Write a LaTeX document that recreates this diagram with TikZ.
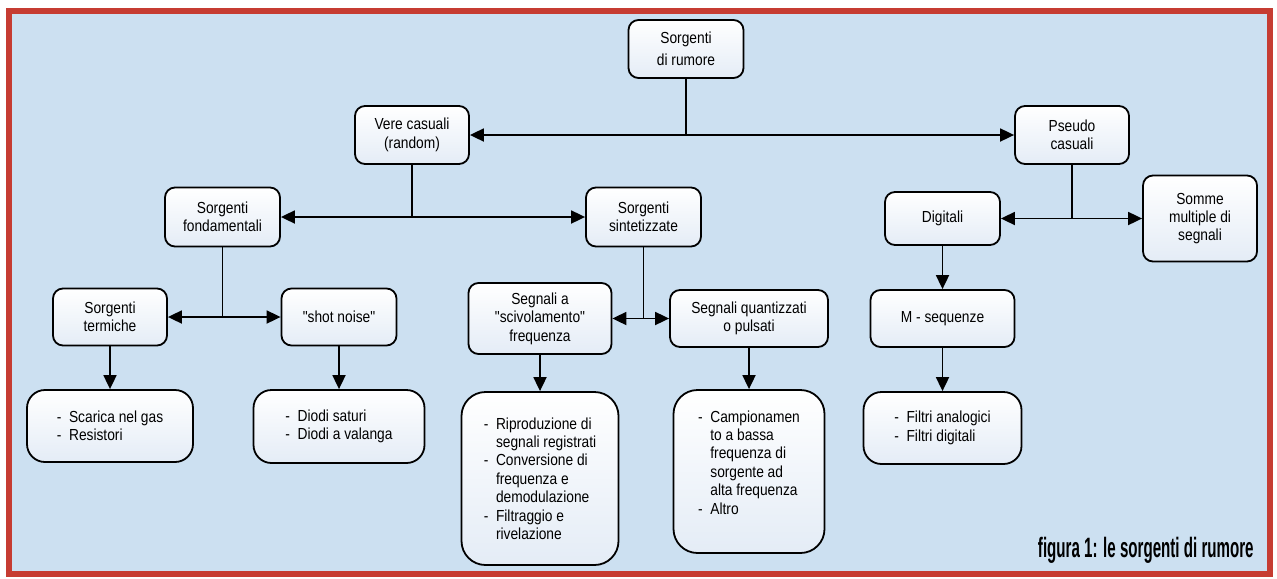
\documentclass[tikz,border=0pt]{standalone}
\usepackage{fontspec}
\newfontfamily\diagfont{Liberation Sans}[FakeStretch=0.86]
\newfontfamily\capfont{Liberation Sans}[FakeStretch=0.54]
\usetikzlibrary{arrows.meta}
\definecolor{bgblue}{RGB}{204,224,241}
\definecolor{framered}{RGB}{198,60,50}
\definecolor{boxlow}{RGB}{228,236,246}
\newcommand{\dashitem}{-\ \ }
\newcommand{\dashgap}{\phantom{-\ \ }}
\tikzset{
    box/.style={draw,line width=0.9pt,rounded corners=5pt,align=center,top color=white,bottom color=boxlow,
        inner sep=2pt,font=\diagfont\fontsize{8}{9.2}\selectfont},
    listbox/.style={box,align=left,rounded corners=9pt},
    link/.style={line width=0.9pt},
    arrow/.style={-{Triangle[length=7pt,width=6.5pt]},line width=0.9pt},
    twoway/.style={{Triangle[length=7pt,width=6.5pt]}-{Triangle[length=7pt,width=6.5pt]},line width=0.9pt}
}
\begin{document}
\begin{tikzpicture}[x=0.5pt,y=-0.5pt]
    \useasboundingbox (0,0) rectangle (1277,578);
    \filldraw[fill=bgblue,draw=framered,line width=3pt] (9,11) rectangle (1270,574);

    \node[box,minimum width=57.5pt,minimum height=29pt] (rumore) at (686,49) {Sorgenti\\[2pt]di rumore};
    \node[box,minimum width=57pt,minimum height=29pt] (vere) at (412,135) {Vere casuali\\(random)};
    \node[box,minimum width=57pt,minimum height=29pt] (pseudo) at (1072,135) {Pseudo\\casuali};

    \node[box,minimum width=57.5pt,minimum height=29.5pt] (fond) at (222.5,217) {Sorgenti\\fondamentali};
    \node[box,minimum width=57.5pt,minimum height=29.5pt] (sint) at (643.5,217) {Sorgenti\\sintetizzate};
    \node[box,minimum width=57.5pt,minimum height=26.5pt] (digit) at (942.5,218.5) {Digitali};
    \node[box,minimum width=57pt,minimum height=43pt] (somme) at (1200,218.5) {Somme\\multiple di\\segnali};

    \node[box,minimum width=57pt,minimum height=28.5pt] (termi) at (110,317) {Sorgenti\\termiche};
    \node[box,minimum width=57.5pt,minimum height=28.5pt] (shot) at (339,317) {"shot noise"};
    \node[box,minimum width=71.5pt,minimum height=35.5pt] (scivol) at (540,318.5) {Segnali a\\"scivolamento"\\frequenza};
    \node[box,minimum width=79pt,minimum height=28.5pt] (quant) at (749,318.5) {Segnali quantizzati\\o pulsati};
    \node[box,minimum width=72pt,minimum height=28.5pt] (mseq) at (942.5,318.5) {M - sequenze};

    \node[listbox,minimum width=83pt,minimum height=36pt] (scarica) at (110,426) {\dashitem Scarica nel gas\\\dashitem Resistori};
    \node[listbox,minimum width=85.5pt,minimum height=36.5pt] (diodi) at (339,426.5) {\dashitem Diodi saturi\\\dashitem Diodi a valanga};
    \node[listbox,rounded corners=12pt,minimum width=78.5pt,minimum height=86.5pt] (ripro) at (540,478.5)
        {\dashitem Riproduzione di\\\dashgap segnali registrati\\\dashitem Conversione di\\\dashgap frequenza e\\\dashgap demodulazione\\\dashitem Filtraggio e\\\dashgap rivelazione};
    \node[listbox,rounded corners=12pt,minimum width=75.5pt,minimum height=81.5pt] (campi) at (749,471.5)
        {\dashitem Campionamen\\\dashgap to a bassa\\\dashgap frequenza di\\\dashgap sorgente ad\\\dashgap alta frequenza\\\dashitem Altro\\\mbox{}};
    \node[listbox,minimum width=79pt,minimum height=36pt] (filtri) at (942.5,428) {\dashitem Filtri analogici\\\dashitem Filtri digitali};

    % branches: stem down from the parent, arrows out to both children
    \foreach \src/\lft/\rgt in {rumore/vere/pseudo,vere/fond/sint,pseudo/digit/somme,fond/termi/shot,sint/scivol/quant} {
        \draw[link] (\src.south) -- (\src.south |- \lft.east);
        \draw[twoway] (\lft.east) -- (\rgt.west);
    }
    \foreach \a/\b in {digit/mseq,termi/scarica,shot/diodi,scivol/ripro,quant/campi,mseq/filtri} {\draw[arrow] (\a) -- (\b);}

    \node[anchor=base east,inner sep=0pt,font=\capfont\bfseries\fontsize{14}{14}\selectfont] (caption) at (1254,557) {figura 1: le sorgenti di rumore};
\end{tikzpicture}
\end{document}
